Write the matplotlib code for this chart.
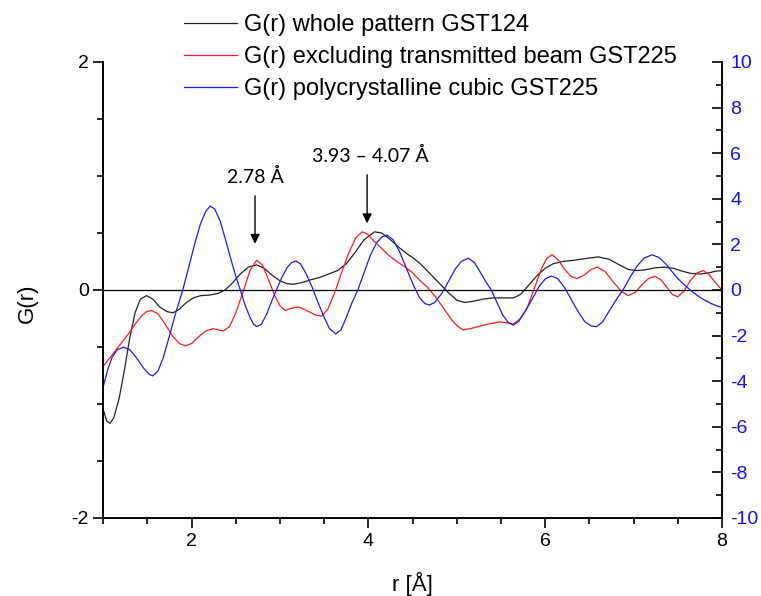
import matplotlib.pyplot as plt
from matplotlib.ticker import MultipleLocator, FixedLocator

plt.rcParams['font.family'] = ['Liberation Sans', 'DejaVu Sans']
plt.rcParams['axes.unicode_minus'] = False

# G(r) whole pattern GST124 (left axis)
r_black = [1.00, 1.04, 1.076, 1.12, 1.18, 1.24, 1.30, 1.36, 1.42, 1.49, 1.56, 1.64,
           1.72, 1.79, 1.86, 1.94, 2.02, 2.10, 2.20, 2.30, 2.38, 2.46, 2.55, 2.64,
           2.735, 2.82, 2.91, 3.00, 3.08, 3.15, 3.25, 3.35, 3.45, 3.55, 3.65, 3.75,
           3.85, 3.95, 4.07, 4.15, 4.25, 4.35, 4.45, 4.51, 4.60, 4.70, 4.80, 4.90,
           5.00, 5.09, 5.18, 5.30, 5.41, 5.52, 5.64, 5.72, 5.80, 5.90, 6.00, 6.09,
           6.20, 6.32, 6.45, 6.60, 6.72, 6.84, 6.94, 7.03, 7.12, 7.25, 7.35, 7.45,
           7.55, 7.65, 7.75, 7.85, 7.93, 8.00]
g_black = [-1.05, -1.15, -1.17, -1.12, -0.95, -0.70, -0.42, -0.20, -0.08, -0.05,
           -0.08, -0.15, -0.19, -0.20, -0.17, -0.11, -0.07, -0.05, -0.045, -0.03,
           0.00, 0.06, 0.14, 0.20, 0.22, 0.19, 0.13, 0.08, 0.055, 0.05, 0.065,
           0.09, 0.11, 0.14, 0.17, 0.23, 0.33, 0.44, 0.51, 0.50, 0.44, 0.37, 0.31,
           0.28, 0.22, 0.14, 0.06, -0.02, -0.09, -0.11, -0.10, -0.08, -0.07, -0.07,
           -0.07, -0.04, 0.03, 0.12, 0.19, 0.23, 0.25, 0.26, 0.275, 0.29, 0.27,
           0.22, 0.18, 0.17, 0.175, 0.195, 0.20, 0.19, 0.165, 0.145, 0.14, 0.15,
           0.165, 0.17]

# G(r) excluding transmitted beam GST225 (left axis)
r_red = [1.00, 1.08, 1.16, 1.22, 1.29, 1.36, 1.43, 1.49, 1.55, 1.62, 1.70, 1.78,
         1.86, 1.93, 2.00, 2.08, 2.16, 2.24, 2.30, 2.36, 2.43, 2.50, 2.58, 2.66,
         2.735, 2.80, 2.87, 2.94, 3.00, 3.06, 3.13, 3.21, 3.30, 3.40, 3.47, 3.54,
         3.62, 3.70, 3.78, 3.86, 3.93, 3.99, 4.06, 4.13, 4.22, 4.32, 4.40, 4.50,
         4.60, 4.66, 4.75, 4.85, 4.95, 5.01, 5.07, 5.15, 5.25, 5.35, 5.49, 5.57,
         5.64, 5.72, 5.80, 5.88, 5.96, 6.02, 6.08, 6.15, 6.22, 6.29, 6.36, 6.44,
         6.52, 6.59, 6.68, 6.77, 6.86, 6.94, 7.02, 7.10, 7.17, 7.24, 7.31, 7.38,
         7.44, 7.50, 7.57, 7.64, 7.72, 7.79, 7.86, 7.93, 8.00]
g_red = [-0.67, -0.59, -0.51, -0.45, -0.38, -0.30, -0.23, -0.19, -0.18, -0.21,
         -0.30, -0.40, -0.47, -0.49, -0.47, -0.41, -0.36, -0.34, -0.35, -0.36,
         -0.32, -0.20, -0.02, 0.17, 0.26, 0.22, 0.09, -0.05, -0.14, -0.18, -0.16,
         -0.15, -0.18, -0.22, -0.23, -0.17, -0.02, 0.16, 0.33, 0.46, 0.51, 0.49,
         0.43, 0.38, 0.31, 0.25, 0.21, 0.15, 0.07, 0.03, -0.05, -0.16, -0.27,
         -0.32, -0.35, -0.34, -0.32, -0.30, -0.28, -0.29, -0.30, -0.25, -0.15,
         0.02, 0.19, 0.28, 0.31, 0.26, 0.18, 0.12, 0.10, 0.13, 0.18, 0.20, 0.16,
         0.07, -0.01, -0.05, -0.02, 0.05, 0.10, 0.12, 0.09, 0.02, -0.04, -0.06,
         -0.01, 0.08, 0.15, 0.17, 0.13, 0.06, 0.00]

# G(r) polycrystalline cubic GST225 (right axis)
r_blue = [1.00, 1.05, 1.10, 1.16, 1.23, 1.30, 1.38, 1.46, 1.52, 1.56, 1.62, 1.68,
          1.75, 1.82, 1.90, 1.97, 2.04, 2.10, 2.16, 2.21, 2.26, 2.32, 2.38, 2.44,
          2.50, 2.55, 2.60, 2.66, 2.70, 2.74, 2.79, 2.85, 2.91, 2.96, 3.02, 3.08,
          3.13, 3.18, 3.23, 3.29, 3.36, 3.43, 3.50, 3.56, 3.63, 3.69, 3.75, 3.81,
          3.88, 3.95, 4.02, 4.09, 4.15, 4.21, 4.28, 4.35, 4.43, 4.51, 4.58, 4.64,
          4.69, 4.75, 4.83, 4.91, 4.98, 5.05, 5.13, 5.20, 5.27, 5.33, 5.39, 5.46,
          5.52, 5.58, 5.64, 5.70, 5.78, 5.86, 5.93, 6.00, 6.07, 6.14, 6.22, 6.30,
          6.38, 6.45, 6.52, 6.58, 6.65, 6.72, 6.80, 6.88, 6.96, 7.04, 7.12, 7.21,
          7.29, 7.37, 7.44, 7.50, 7.57, 7.64, 7.72, 7.80, 7.88, 7.95, 8.00]
b_blue = [-4.24, -3.50, -2.95, -2.62, -2.51, -2.62, -3.00, -3.45, -3.70, -3.77,
          -3.55, -2.95, -2.00, -1.00, 0.00, 1.05, 2.10, 2.90, 3.45, 3.68, 3.55,
          3.05, 2.25, 1.40, 0.60, 0.00, -0.62, -1.20, -1.50, -1.61, -1.50, -1.05,
          -0.45, 0.00, 0.55, 0.98, 1.20, 1.27, 1.15, 0.75, 0.15, -0.55, -1.20,
          -1.70, -1.93, -1.75, -1.20, -0.60, 0.00, 0.75, 1.50, 2.05, 2.32, 2.41,
          2.20, 1.70, 0.95, 0.20, -0.35, -0.60, -0.66, -0.55, -0.15, 0.40, 0.90,
          1.25, 1.39, 1.20, 0.75, 0.35, 0.00, -0.60, -1.10, -1.42, -1.54, -1.38,
          -0.90, -0.35, 0.15, 0.48, 0.61, 0.50, 0.10, -0.45, -1.00, -1.40, -1.58,
          -1.61, -1.40, -0.95, -0.45, 0.00, 0.55, 1.05, 1.40, 1.54, 1.42, 1.12,
          0.78, 0.50, 0.24, 0.00, -0.24, -0.44, -0.60, -0.71, -0.76]

labels = ['G(r) whole pattern GST124',
          'G(r) excluding transmitted beam GST225',
          'G(r) polycrystalline cubic GST225']

fig = plt.figure(figsize=(7.61, 5.96), dpi=100)
ax = fig.add_axes([0.1357, 0.131, 0.8130, 0.765])
ax2 = ax.twinx()

l1, = ax.plot(r_black, g_black, color='#222222', lw=0.9)
l2, = ax.plot(r_red, g_red, color='#ff1a1a', lw=0.9)
l3, = ax2.plot(r_blue, b_blue, color='#1a1aff', lw=0.9)
ax.axhline(0, color='black', lw=0.9)

ax.set_xlim(1, 8)
ax.set_ylim(-2, 2)
ax2.set_ylim(-10, 10)

ax.xaxis.set_major_locator(FixedLocator([2, 4, 6, 8]))
ax.xaxis.set_minor_locator(MultipleLocator(0.5))
ax.yaxis.set_major_locator(MultipleLocator(2))
ax.yaxis.set_minor_locator(MultipleLocator(0.5))
ax2.yaxis.set_major_locator(MultipleLocator(2))
ax2.yaxis.set_minor_locator(MultipleLocator(1))

ax.tick_params(axis='both', which='major', direction='out', length=7, width=1.2,
               labelsize=14)
ax.tick_params(axis='both', which='minor', direction='out', length=4, width=1.2)
ax2.tick_params(axis='y', which='major', direction='in', length=7, width=1.2,
                labelsize=14, labelcolor='#1010ff', pad=6)
ax2.tick_params(axis='y', which='minor', direction='in', length=4, width=1.2)

for a in (ax, ax2):
    a.spines['top'].set_visible(False)
    for s in ('left', 'bottom', 'right'):
        a.spines[s].set_linewidth(1.2)

ax.set_xlabel('r [Å]', fontsize=16)
ax.xaxis.set_label_coords(0.5, -0.118)
ax.set_ylabel('G(r)', fontsize=16)
ax.yaxis.set_label_coords(-0.106, 0.47)

fig.legend([l1, l2, l3], labels, loc='upper left', bbox_to_anchor=(0.2135, 1.012),
           frameon=False, fontsize=17, handlelength=2.25, handletextpad=0.3,
           labelspacing=0.42, borderpad=0.4)

ann_font = ['Lato', 'DejaVu Sans']
ax.annotate('', xy=(2.717, 0.38), xytext=(2.717, 0.85),
            arrowprops=dict(arrowstyle='-|>', color='black', lw=1, mutation_scale=14))
ax.text(2.717, 0.99, '2.78 Å', ha='center', va='center', fontsize=14, family=ann_font)
ax.annotate('', xy=(3.985, 0.56), xytext=(3.985, 1.035),
            arrowprops=dict(arrowstyle='-|>', color='black', lw=1, mutation_scale=14))
ax.text(4.02, 1.175, '3.93 – 4.07 Å', ha='center', va='center', fontsize=14,
        family=ann_font)

fig.savefig('out.png', dpi=100)
